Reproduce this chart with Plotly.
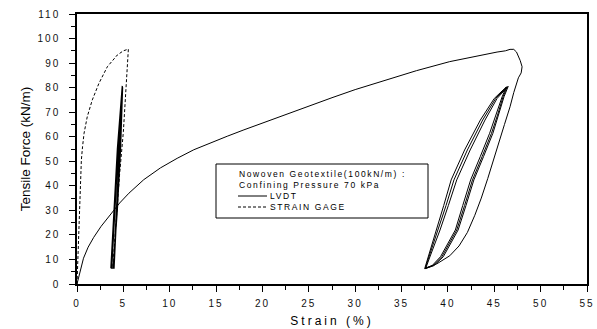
import plotly.graph_objects as go

# ---------------- data ----------------
# LVDT: monotonic loading to failure, unloading, then reload/unload cycles
lvdt_x = [0, 0.3, 0.7, 1.2, 1.8, 2.6, 3.6, 4.6, 5.6, 7.2, 9.0, 10.8, 12.6, 14.4,
          16.2, 18.0, 20.0, 22.0, 25.0, 27.5, 30.0, 33.0, 36.6, 40.2, 43.8, 45.3,
          46.2, 46.7, 47.1, 47.4, 47.8, 48.0, 47.9, 47.6, 47.1, 46.7, 46.1, 45.6,
          44.9, 44.3, 43.6, 42.9, 42.1, 41.2, 40.2, 38.8, 37.6]
lvdt_y = [0, 5.0, 10.5, 15.0, 19.0, 23.5, 28.5, 33.0, 37.0, 42.5, 47.3, 51.2, 54.7,
          57.6, 60.2, 62.8, 65.6, 68.4, 72.5, 75.9, 79.2, 82.8, 86.9, 90.6, 93.5,
          94.5, 95.0, 95.6, 95.6, 94.5, 91.0, 88.5, 86.0, 84.0, 78.0, 72.2, 65.0,
          58.7, 50.0, 43.0, 35.0, 28.0, 21.0, 15.5, 11.5, 8.2, 6.5]

lvdt_cyc_x = [37.5, 37.85, 38.75, 39.55, 40.35, 41.8, 43.5, 45.0, 46.3,
              45.85, 45.2, 44.5, 43.5, 42.45, 41.6, 40.8, 39.2, 38.3, 37.5,
              37.55, 37.95, 38.95, 39.8, 40.65, 42.1, 43.75, 45.15, 46.4,
              45.95, 45.35, 44.7, 43.7, 42.65, 41.8, 40.95, 39.35, 38.4, 37.55,
              37.6, 38.05, 39.15, 40.05, 40.95, 42.4, 44.0, 45.3, 46.5,
              46.05, 45.45, 44.85, 43.85, 42.8, 41.95, 41.1, 39.5, 38.5, 37.6]
lvdt_cyc_y = [6.3, 11.0, 22.0, 32.0, 42.4, 54.6, 66.8, 75.6, 80.3,
              76.3, 68.8, 61.4, 52.0, 42.4, 32.0, 22.0, 11.1, 7.5, 6.3,
              6.3, 11.0, 22.0, 32.0, 42.4, 54.6, 66.8, 75.6, 80.4,
              76.3, 68.8, 61.4, 52.0, 42.4, 32.0, 22.0, 11.1, 7.5, 6.3,
              6.3, 11.0, 22.0, 32.0, 42.4, 54.6, 66.8, 75.6, 80.5,
              76.3, 68.8, 61.4, 52.0, 42.4, 32.0, 22.0, 11.1, 7.5, 6.3]

# Strain gage: loading to peak, unloading, then reload/unload cycles
gage_x = [0, 0.05, 0.12, 0.2, 0.3, 0.4, 0.47, 0.6, 0.76, 1.11, 1.65, 2.37, 3.27,
          4.35, 5.0, 5.54, 5.3, 5.0, 4.6, 4.3, 4.05, 3.85]
gage_y = [0, 5.0, 15.0, 25.0, 35.0, 44.0, 50.5, 56.0, 61.4, 68.2, 75.0, 81.8, 88.5,
          93.3, 95.0, 95.7, 80.0, 62.0, 45.0, 30.0, 16.0, 6.5]

gage_cyc_x = [3.65, 4.0, 4.35, 4.88, 4.6, 4.25, 3.95,
              3.7, 4.05, 4.4, 4.9, 4.65, 4.3, 4.0,
              3.75, 4.1, 4.45, 4.92, 4.7, 4.35, 3.9]
gage_cyc_y = [6.5, 30.0, 55.0, 80.7, 55.0, 30.0, 6.5,
              6.5, 30.0, 55.0, 80.5, 55.0, 30.0, 6.5,
              6.5, 30.0, 55.0, 80.2, 55.0, 30.0, 6.5]

legend_lines = ["Nowoven Geotextile(100kN/m) :", "Confining Pressure 70 kPa"]
series_names = ["LVDT", "STRAIN GAGE"]

x_ticks = list(range(0, 60, 5))
y_ticks = list(range(0, 120, 10))

FONT = "Arial, Liberation Sans, sans-serif"

fig = go.Figure()
fig.add_trace(go.Scatter(x=lvdt_x, y=lvdt_y, mode="lines", name=series_names[0],
                         line=dict(color="black", width=1), showlegend=False))
fig.add_trace(go.Scatter(x=lvdt_cyc_x, y=lvdt_cyc_y, mode="lines",
                         line=dict(color="black", width=1), showlegend=False))
fig.add_trace(go.Scatter(x=gage_x, y=gage_y, mode="lines", name=series_names[1],
                         line=dict(color="black", width=1, dash="3px,2px"), showlegend=False))
fig.add_trace(go.Scatter(x=gage_cyc_x, y=gage_cyc_y, mode="lines",
                         line=dict(color="black", width=1.2), showlegend=False))

# plot area in pixels: x 77..587, y 14..284
def px_x(p):
    return (p - 77) / 510.0

def px_y(p):
    return (284 - p) / 270.0

shapes = [
    dict(type="rect", xref="paper", yref="paper", x0=px_x(216), x1=px_x(428),
         y0=px_y(218), y1=px_y(164), line=dict(color="black", width=1), fillcolor="white"),
    dict(type="line", xref="paper", yref="paper", x0=px_x(238), x1=px_x(267),
         y0=px_y(196), y1=px_y(196), line=dict(color="black", width=1)),
    dict(type="line", xref="paper", yref="paper", x0=px_x(238), x1=px_x(267),
         y0=px_y(207), y1=px_y(207), line=dict(color="black", width=1, dash="3px,2px")),
]
annotations = [
    dict(text=legend_lines[0], x=px_x(237), y=px_y(174)),
    dict(text=legend_lines[1], x=px_x(237), y=px_y(185)),
    dict(text=series_names[0], x=px_x(268), y=px_y(196)),
    dict(text=series_names[1], x=px_x(268), y=px_y(207)),
]
for a in annotations:
    a.update(xref="paper", yref="paper", xanchor="left", yanchor="middle", align="left",
             showarrow=False, font=dict(family=FONT, size=8.5, color="black"))

axis_common = dict(showline=True, linecolor="black", linewidth=1.5, mirror=True,
                   showgrid=False, zeroline=False, ticks="outside", tickcolor="black",
                   tickwidth=1, ticklen=6, automargin=False,
                   tickfont=dict(family=FONT, size=10, color="#111"))

fig.update_layout(
    width=597, height=329,
    margin=dict(l=77, r=10, t=14, b=45),
    paper_bgcolor="white", plot_bgcolor="white",
    shapes=shapes, annotations=annotations,
    xaxis=dict(range=[0, 55], tickvals=x_ticks, ticklabelstandoff=3,
               minor=dict(dtick=2.5, ticks="outside", ticklen=4, tickcolor="black", tickwidth=1),
               title=dict(text="Strain (%)", font=dict(family=FONT, size=12, color="black"),
                          standoff=9),
               **axis_common),
    yaxis=dict(range=[0, 110], tickvals=y_ticks, ticklabelstandoff=7,
               minor=dict(dtick=5, ticks="outside", ticklen=4, tickcolor="black", tickwidth=1),
               title=dict(text="Tensile Force (kN/m)",
                          font=dict(family=FONT, size=13.5, color="black"), standoff=10),
               **axis_common),
)

post = """
var st = document.createElement('style');
st.textContent = '.xtick text, .ytick text {letter-spacing: 2px;} ' +
                 '.g-xtitle text {letter-spacing: 3px;} ' +
                 '.annotation-text {letter-spacing: 1.6px;}';
document.head.appendChild(st);
"""
fig.write_html("out.html", post_script=post)
